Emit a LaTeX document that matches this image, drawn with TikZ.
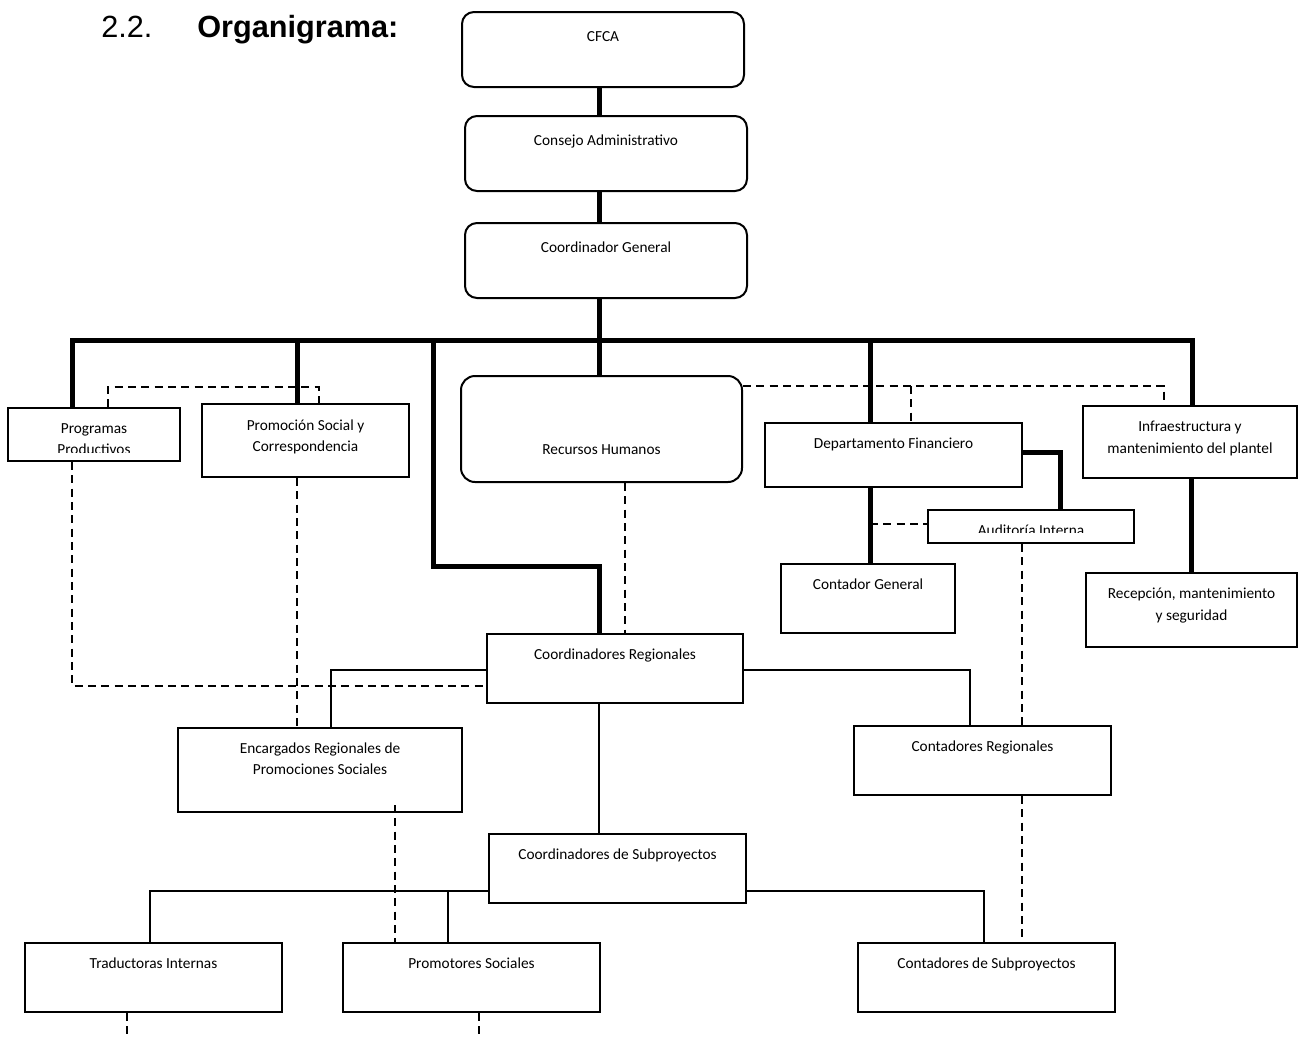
\documentclass[tikz,border=0pt]{standalone}
\usepackage{fontspec}
\setmainfont{Carlito}
\newfontfamily\arialf{Liberation Sans}
\usetikzlibrary{positioning, fit}

\begin{document}
\begin{tikzpicture}[x=0.75pt, y=-0.75pt, node distance=8.3pt]
    % Estilos
    \tikzstyle{caja}=[draw=black, line width=1.5pt, inner sep=0pt]
    \tikzstyle{cajar}=[caja, rounded corners=9pt]
    \tikzstyle{texto}=[font=\fontsize{11.5}{16.1}\selectfont, align=center, inner sep=0pt, execute at begin node=\strut]
    \tikzstyle{mando}=[line width=3.75pt]
    \tikzstyle{linea}=[line width=1.5pt]
    \tikzstyle{apoyo}=[line width=1.5pt, dash pattern=on 6pt off 4pt]

    \useasboundingbox (0,0) rectangle (1306,1039);

    % Titulo
    \node[anchor=base west, inner sep=0pt, font=\arialf\fontsize{23}{27}\selectfont] (num) at (101,37) {2.2.};
    \node[anchor=base west, inner sep=0pt, font=\arialf\bfseries\fontsize{23}{27}\selectfont] (titulo) at (197,37) {Organigrama:};

    % Cajas (Nodos)
    \node[cajar, fit={(462,12) (744,87)}] (cfca) {};
    \node[cajar, fit={(465,116) (747,191)}] (consejo) {};
    \node[cajar, fit={(465,223) (747,298)}] (coord) {};
    \node[cajar, rounded corners=10.5pt, fit={(461,376) (742,482)}] (rrhh) {};
    \node[caja, fit={(8,408) (180,461)}] (prog) {};
    \node[caja, fit={(202,404) (409,477)}] (promo) {};
    \node[caja, fit={(765,423) (1022,487)}] (finan) {};
    \node[caja, fit={(928,510) (1134,543)}] (audit) {};
    \node[caja, fit={(781,564) (955,633)}] (contgen) {};
    \node[caja, fit={(1083,406) (1297,478)}] (infra) {};
    \node[caja, fit={(1086,573) (1297,647)}] (recep) {};
    \node[caja, fit={(487,634) (743,703)}] (creg) {};
    \node[caja, fit={(178,728) (462,812)}] (encreg) {};
    \node[caja, fit={(854,726) (1111,795)}] (contreg) {};
    \node[caja, fit={(489,834) (746,903)}] (csub) {};
    \node[caja, fit={(25,943) (282,1012)}] (trad) {};
    \node[caja, fit={(343,943) (600,1012)}] (promot) {};
    \node[caja, fit={(858,943) (1115,1012)}] (contsub) {};

    % Textos
    \node[texto, below=11.3pt of cfca.north] (cfcaT) {CFCA};
    \node[texto, below=11.3pt of consejo.north] (consejoT) {Consejo Administrativo};
    \node[texto, below=11.3pt of coord.north] (coordT) {Coordinador General};
    \node[texto, below=48.5pt of rrhh.north] (rrhhT) {Recursos Humanos};
    \begin{scope}
        \clip (8,408) rectangle (180,452);
        \node[texto, below=12.1pt of prog.north] (progT) {Programas\\Productivos};
    \end{scope}
    \node[texto, below=12.1pt of promo.north] (promoT) {Promoción Social y\\Correspondencia};
    \node[texto, below=of finan.north] (finanT) {Departamento Financiero};
    \begin{scope}
        \clip (928,510) rectangle (1134,532);
        \node[texto, below=of audit.north] (auditT) {Auditoría Interna};
    \end{scope}
    \node[texto, below=of contgen.north] (contgenT) {Contador General};
    \node[texto, below=12.1pt of infra.north] (infraT) {Infraestructura y\\mantenimiento del plantel};
    \node[texto, below=12.1pt of recep.north] (recepT) {Recepción, mantenimiento\\y seguridad};
    \node[texto, below=of creg.north] (cregT) {Coordinadores Regionales};
    \node[texto, below=11.6pt of encreg.north] (encregT) {Encargados Regionales de\\Promociones Sociales};
    \node[texto, below=of contreg.north] (contregT) {Contadores Regionales};
    \node[texto, below=of csub.north] (csubT) {Coordinadores de Subproyectos};
    \node[texto, below=of trad.north] (tradT) {Traductoras Internas};
    \node[texto, below=of promot.north] (promotT) {Promotores Sociales};
    \node[texto, below=of contsub.north] (contsubT) {Contadores de Subproyectos};

    \coordinate (busL) at (72,340);
    \coordinate (busR) at (1192,340);
    \coordinate (tradFin) at (127,1039);
    \coordinate (promFin) at (479,1039);

    % Lineas de mando (gruesas)
    \draw[mando] (599,0 |- cfca.south) -- (599,0 |- consejo.north);
    \draw[mando] (599,0 |- consejo.south) -- (599,0 |- coord.north);
    \draw[mando] (599,0 |- coord.south) -- (599,0 |- rrhh.north);
    \draw[mando] (busL |- prog.north) -- (busL) -- (busR) -- (busR |- infra.north);
    \draw[mando] (297,340) -- (297,0 |- promo.north);
    \draw[mando] (433,340) -- (433,566) -- (599,566) -- (599,0 |- creg.north);
    \draw[mando] (870,340) -- (870,0 |- finan.north);
    \draw[mando] (870,0 |- finan.south) -- (870,0 |- contgen.north);
    \draw[mando] (finan.east |- 0,452) -- (1060,452) -- (1060,0 |- audit.north);
    \draw[mando] (1191,0 |- infra.south) -- (1191,0 |- recep.north);

    % Lineas simples
    \draw[linea] (creg.west |- 0,670) -- (331,670) -- (331,0 |- encreg.north);
    \draw[linea] (creg.east |- 0,670) -- (970,670) -- (970,0 |- contreg.north);
    \draw[linea] (599,0 |- creg.south) -- (599,0 |- csub.north);
    \draw[linea] (csub.west |- 0,891) -- (150,891) -- (150,0 |- trad.north);
    \draw[linea] (448,891) -- (448,0 |- promot.north);
    \draw[linea] (csub.east |- 0,891) -- (984,891) -- (984,0 |- contsub.north);

    % Lineas de apoyo (punteadas)
    \draw[apoyo] (108,0 |- prog.north) -- (108,387) -- (319,387) -- (319,0 |- promo.north);
    \draw[apoyo] (rrhh.east |- 0,386) -- (1164,386) -- (1164,0 |- infra.north);
    \draw[apoyo] (911,386) -- (911,0 |- finan.north);
    \draw[apoyo] (870,524) -- (audit.west |- 0,524);
    \draw[apoyo] (625,0 |- rrhh.south) -- (625,0 |- creg.north);
    \draw[apoyo] (72,0 |- prog.south) -- (72,686) -- (creg.west |- 0,686);
    \draw[apoyo] (297,0 |- promo.south) -- (297,0 |- encreg.north);
    \draw[apoyo] (1022,0 |- audit.south) -- (1022,0 |- contreg.north);
    \draw[apoyo] (1022,0 |- contreg.south) -- (1022,0 |- contsub.north);
    \draw[apoyo] (395,805) -- (395,0 |- promot.north);
    \draw[apoyo] (127,0 |- trad.south) -- (tradFin);
    \draw[apoyo] (479,0 |- promot.south) -- (promFin);

\end{tikzpicture}
\end{document}
